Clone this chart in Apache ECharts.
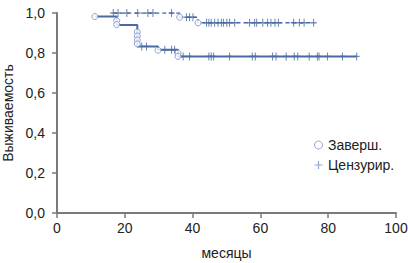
<!DOCTYPE html>
<html lang="ru">
<head>
<meta charset="UTF-8">
<title>Выживаемость</title>
<script src="https://cdn.jsdelivr.net/npm/echarts@6/dist/echarts.min.js"></script>
<style>
  body { margin: 0; background: #fff; }
  #main { width: 408px; height: 263px; }
</style>
</head>
<body>
<div id="main"></div>
<script>
// ось X (месяцы) и ось Y (доля)
var xTicks = [0, 20, 40, 60, 80, 100];
var yTicks = [0, 0.2, 0.4, 0.6, 0.8, 1.0];

// верхняя кривая: моменты событий и уровень выживаемости после них
var upperT = [16.6, 36.2, 41.6, 75.7];
var upperS = [1.0, 0.979, 0.951, 0.951];
var upperEventT = [36.2, 41.6];
var upperEventS = [0.979, 0.951];
var upperCensT = [16.6, 18.0, 20.6, 23.8, 26.8, 28.3, 33.8, 38.2, 39.1, 40.1,
  44.1, 44.8, 45.5, 46.5, 47.5, 48.5, 49.1, 50.1, 50.9, 52.4, 56.8, 58.3, 58.9,
  60.7, 62.1, 63.1, 64.3, 65.3, 69.8, 71.5, 72.9, 75.7];

// нижняя кривая
var lowerT = [11.2, 17.6, 23.7, 29.8, 35.7, 88.4];
var lowerS = [0.982, 0.94, 0.833, 0.816, 0.783, 0.783];
var lowerEventT = [11.2, 17.6, 17.6, 23.7, 23.7, 23.7, 23.7, 29.8, 35.7, 35.7];
var lowerEventS = [0.982, 0.962, 0.942, 0.905, 0.885, 0.865, 0.845, 0.814, 0.80, 0.783];
var lowerCensT = [25.0, 26.4, 31.8, 33.8, 34.7, 37.2, 39.1, 44.8, 45.5, 46.2, 50.9,
  57.6, 58.5, 63.6, 64.6, 67.6, 70.0, 71.0, 74.4, 76.8, 77.3, 79.8, 84.2, 88.4];

var blue = '#4a6aa3';
var axisGray = '#7a7a7a';
var plus = 'path://M5,0L5,10M0,5L10,5';

function zip(a, b) { return a.map(function (v, i) { return [v, b[i]]; }); }
// уровень ступенчатой функции в момент t
function levelAt(ts, ss, t) {
  var s = ss[0];
  for (var i = 0; i < ts.length; i++) { if (ts[i] <= t) s = ss[i]; }
  return s;
}
function cens(ts, ss, ct) { return ct.map(function (t) { return [t, levelAt(ts, ss, t)]; }); }

var font = 'Liberation Sans, Arial, sans-serif';
var myChart = echarts.init(document.getElementById('main'), null, { renderer: 'svg' });

var axisCommon = {
  axisLine: { show: true, onZero: false, lineStyle: { color: axisGray, width: 2 } },
  axisTick: { show: true, length: 5, lineStyle: { color: axisGray, width: 1.5 } },
  splitLine: { show: false }
};

var option = {
  animation: false,
  textStyle: { fontFamily: font },
  grid: { left: 57, right: 12, top: 13, bottom: 50, outerBoundsMode: 'none', containLabel: false },
  legend: {
    orient: 'vertical', left: 307, top: 133, itemGap: 6,
    itemWidth: 9, itemHeight: 8,
    textStyle: { fontFamily: font, fontSize: 14, color: '#222' },
    data: [
      { name: 'Заверш.', icon: 'circle', itemStyle: { color: '#fff', borderColor: '#7d95c4', borderWidth: 1 } },
      { name: 'Цензурир.', icon: plus, itemStyle: { color: 'none', borderColor: '#7a93c0', borderWidth: 1.2 } }
    ]
  },
  xAxis: Object.assign({
    type: 'value', min: xTicks[0], max: xTicks[xTicks.length - 1], interval: 20,
    name: 'месяцы', nameLocation: 'middle', nameGap: 33,
    nameTextStyle: { fontFamily: font, fontSize: 14, color: '#222' },
    axisLabel: { fontFamily: font, fontSize: 14, color: '#222', margin: 8 }
  }, axisCommon),
  yAxis: Object.assign({
    type: 'value', min: yTicks[0], max: yTicks[yTicks.length - 1], interval: 0.2,
    name: 'Выживаемость', nameLocation: 'middle', nameGap: 42, nameRotate: 90,
    nameTextStyle: { fontFamily: font, fontSize: 14, color: '#222' },
    axisLabel: {
      fontFamily: font, fontSize: 14, color: '#222', margin: 12,
      formatter: function (v) { return v.toFixed(1).replace('.', ','); }
    }
  }, axisCommon),
  series: [
    {
      type: 'line', step: 'end', data: zip(upperT, upperS), symbol: 'none',
      lineStyle: { color: blue, width: 1.5, type: [4, 3] }, z: 2
    },
    {
      type: 'line', step: 'end', data: zip(lowerT, lowerS), symbol: 'none',
      lineStyle: { color: blue, width: 2 }, z: 2
    },
    {
      name: 'Заверш.', type: 'scatter', symbol: 'circle', symbolSize: 6,
      data: zip(upperEventT, upperEventS).concat(zip(lowerEventT, lowerEventS)),
      itemStyle: { color: '#fff', borderColor: '#6f8cc0', borderWidth: 1 }, z: 4
    },
    {
      name: 'Цензурир.', type: 'scatter', symbol: plus, symbolSize: [6, 8],
      data: cens(upperT, upperS, upperCensT).concat(cens(lowerT, lowerS, lowerCensT)),
      itemStyle: { color: 'none', borderColor: blue, borderWidth: 1.2 }, z: 3
    }
  ]
};
myChart.setOption(option);
</script>
</body>
</html>
